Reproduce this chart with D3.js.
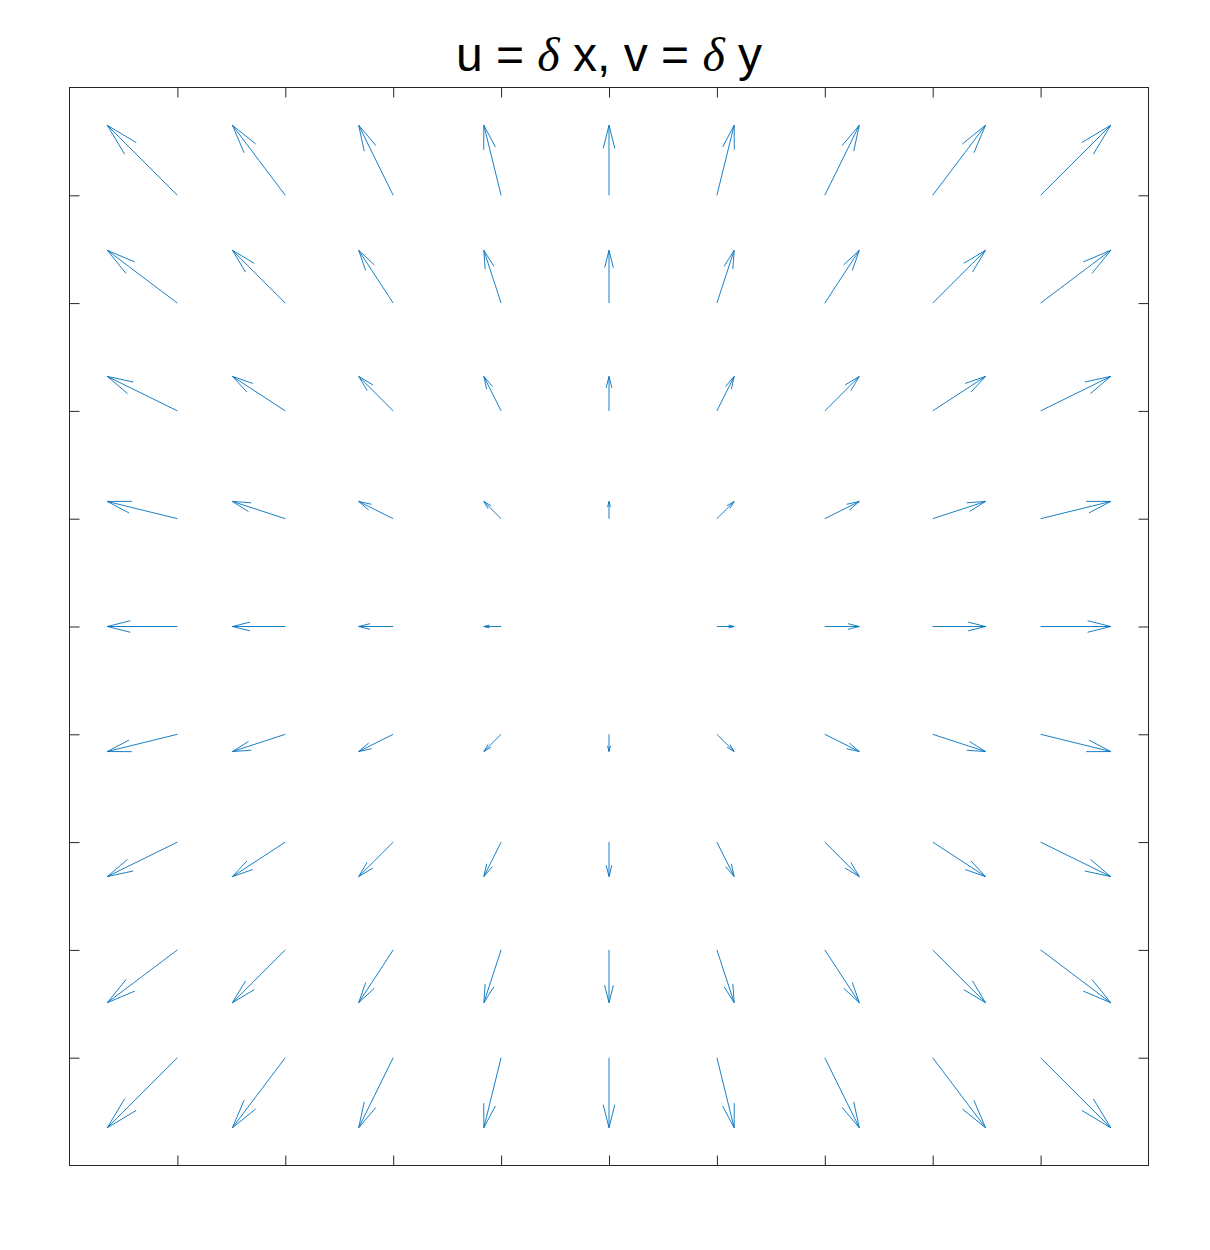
<!DOCTYPE html>
<html>
<head>
<meta charset="utf-8">
<script src="https://cdn.jsdelivr.net/npm/d3@7"></script>
<style>
  body { margin: 0; background: #fff; }
  svg { display: block; }
</style>
</head>
<body>
<div id="graphicContainer"></div>
<script>
// grid positions (data units)
var xGrid = [-4, -3, -2, -1, 0, 1, 2, 3, 4];
var yGrid = [-4, -3, -2, -1, 0, 1, 2, 3, 4];
// scaled vector components, u per column and v per row (data units)
var uCol = [-0.65, -0.49, -0.32, -0.16, 0, 0.16, 0.32, 0.49, 0.65];
var vRow = [-0.65, -0.49, -0.32, -0.16, 0, 0.16, 0.32, 0.49, 0.65];
var tickVals = [-4, -3, -2, -1, 0, 1, 2, 3, 4];

var width = 1210, height = 1250;
var box = {left: 69.5, right: 1148.5, top: 87.5, bottom: 1165.5};
var blue = "#0072BD";
var axisColor = "#262626";

var svg = d3.select("#graphicContainer").append("svg")
  .attr("width", width)
  .attr("height", height);

var x = d3.scaleLinear().domain([-5, 5]).range([box.left, box.right]);
var y = d3.scaleLinear().domain([-5, 5]).range([box.bottom, box.top]);

// build vectors
var vectors = [];
xGrid.forEach(function(gx, i) {
  yGrid.forEach(function(gy, j) {
    vectors.push({x: gx, y: gy, u: uCol[i], v: vRow[j]});
  });
});

// matlab style arrow head
var alpha = 0.33, beta = 0.25;
function arrowPath(d) {
  var tx = d.x + d.u, ty = d.y + d.v;
  var p = d3.path();
  p.moveTo(x(d.x), y(d.y));
  p.lineTo(x(tx), y(ty));
  var h1x = tx - alpha * (d.u + beta * d.v), h1y = ty - alpha * (d.v - beta * d.u);
  var h2x = tx - alpha * (d.u - beta * d.v), h2y = ty - alpha * (d.v + beta * d.u);
  p.moveTo(x(h1x), y(h1y));
  p.lineTo(x(tx), y(ty));
  p.lineTo(x(h2x), y(h2y));
  return p.toString();
}

svg.append("g")
  .attr("class", "arrows")
  .selectAll("path")
  .data(vectors.filter(function(d) { return d.u !== 0 || d.v !== 0; }))
  .enter().append("path")
  .attr("d", arrowPath)
  .attr("fill", "none")
  .attr("stroke", blue)
  .attr("stroke-width", 0.9)
  .attr("stroke-linejoin", "miter");

// axes: ticks pointing inward, no labels
function styleAxis(g) {
  g.select(".domain").remove();
  g.selectAll("line").attr("stroke", axisColor).attr("stroke-width", 1);
}

svg.append("g").attr("transform", "translate(0," + box.bottom + ")")
  .call(d3.axisBottom(x).tickValues(tickVals).tickSize(-10).tickFormat(""))
  .call(styleAxis);
svg.append("g").attr("transform", "translate(0," + box.top + ")")
  .call(d3.axisTop(x).tickValues(tickVals).tickSize(-10).tickFormat(""))
  .call(styleAxis);
svg.append("g").attr("transform", "translate(" + box.left + ",0)")
  .call(d3.axisLeft(y).tickValues(tickVals).tickSize(-10).tickFormat(""))
  .call(styleAxis);
svg.append("g").attr("transform", "translate(" + box.right + ",0)")
  .call(d3.axisRight(y).tickValues(tickVals).tickSize(-10).tickFormat(""))
  .call(styleAxis);

svg.append("rect")
  .attr("x", box.left).attr("y", box.top)
  .attr("width", box.right - box.left)
  .attr("height", box.bottom - box.top)
  .attr("fill", "none")
  .attr("stroke", axisColor)
  .attr("stroke-width", 1);

// title
var title = svg.append("text")
  .attr("x", (box.left + box.right) / 2)
  .attr("y", 71)
  .attr("text-anchor", "middle")
  .attr("font-family", "'Liberation Sans', Arial, sans-serif")
  .attr("font-size", 48)
  .attr("fill", "#000");
var parts = [["u = ", false], ["\u03b4", true], [" x, v = ", false], ["\u03b4", true], [" y", false]];
parts.forEach(function(p) {
  var t = title.append("tspan").text(p[0]);
  if (p[1]) t.attr("font-family", "'Liberation Serif', 'Times New Roman', serif").attr("font-style", "italic");
});
</script>
</body>
</html>
